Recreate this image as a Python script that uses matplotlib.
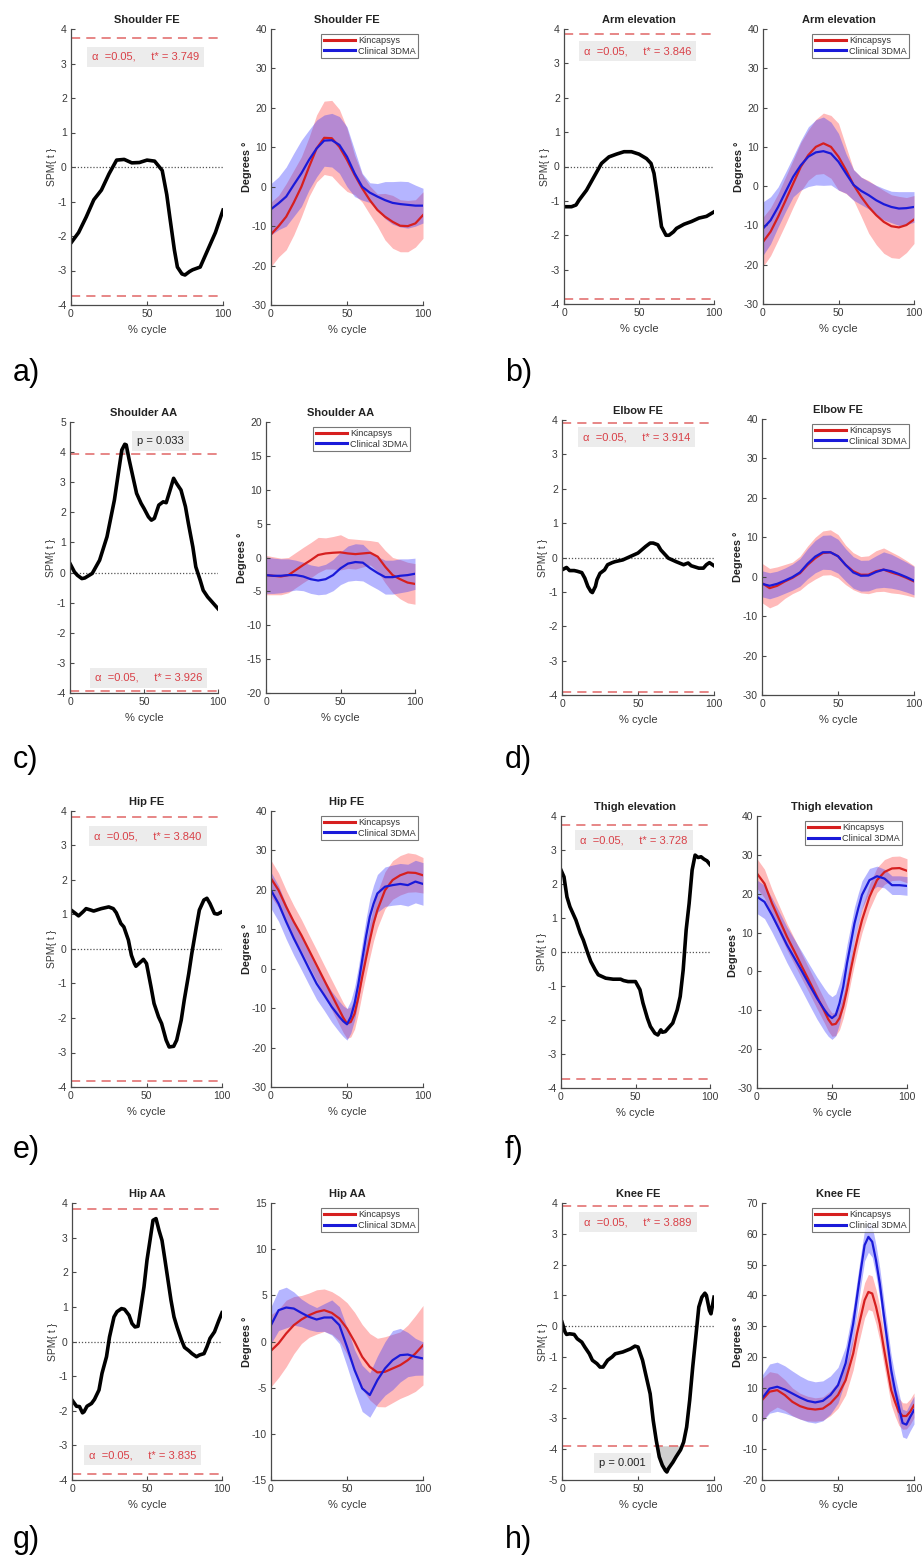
import numpy as np
import matplotlib
matplotlib.use("Agg")
import matplotlib.pyplot as plt

plt.rcParams['font.family'] = ['Liberation Sans', 'DejaVu Sans']
plt.rcParams['axes.unicode_minus'] = False

# ---------------- data ----------------
pct = [0, 5, 10, 15, 20, 25, 30, 35, 40, 45, 50, 55, 60, 65, 70, 75, 80, 85, 90, 95, 100]
pct_e = [0, 5, 10, 15, 20, 25, 30, 35, 40, 45, 47.5, 50, 52.5, 55, 57.5, 60, 62.5, 65, 67.5, 70, 75, 80, 85, 90, 95, 100]
pct_f = pct_e
pct_h = [0, 5, 10, 15, 20, 25, 30, 35, 40, 45, 50, 55, 60, 62.5, 65, 67.5, 70, 72.5, 75, 77.5, 80, 82.5, 85,
         87.5, 90, 92.5, 95, 97.5, 100]
xticks = [0, 50, 100]
series_names = ["Kincapsys", "Clinical 3DMA"]
letters = ["a)", "b)", "c)", "d)", "e)", "f)", "g)", "h)"]
titles = ["Shoulder FE", "Arm elevation", "Shoulder AA", "Elbow FE",
          "Hip FE", "Thigh elevation", "Hip AA", "Knee FE"]
tstar = [3.749, 3.846, 3.926, 3.914, 3.840, 3.728, 3.835, 3.889]
pvals = [None, None, "p = 0.033", None, None, None, None, "p = 0.001"]

# a) Shoulder FE
a_spm_x = [0, 5, 10, 15, 20, 25, 30, 35, 40, 45, 50, 55, 60, 63, 65, 68, 70, 73, 75, 78, 80, 85, 90, 95, 100]
a_spm = [-2.2, -1.9, -1.45, -0.95, -0.67, -0.2, 0.2, 0.22, 0.12, 0.13, 0.2, 0.17, -0.1, -0.8, -1.45, -2.4, -2.9,
         -3.1, -3.13, -3.03, -2.98, -2.9, -2.4, -1.9, -1.25]
a_kin = [-12.1, -10.0, -7.6, -4.0, 0.0, 5.0, 9.7, 12.4, 12.3, 10.1, 6.8, 3.0, -0.4, -3.4, -5.9, -7.6, -8.9, -9.9, -10.0, -9.3, -7.2]
a_kin_sd = [8.2, 7.8, 8.4, 8.2, 7.6, 7.5, 8.5, 9.3, 9.6, 9.5, 8.0, 5.0, 3.5, 3.6, 4.1, 5.9, 6.7, 6.6, 6.5, 6.0, 5.9]
a_cli = [-5.7, -4.2, -2.5, 0.5, 3.4, 6.8, 9.7, 11.7, 11.8, 10.6, 7.6, 3.4, 0.0, -1.5, -2.5, -3.4, -4.1, -4.4, -4.6, -4.8, -4.8]
a_cli_sd = [6.5, 6.7, 7.5, 8.0, 8.4, 7.6, 7.2, 6.5, 6.8, 7.2, 7.6, 5.9, 3.4, 2.5, 3.3, 4.7, 5.4, 5.8, 5.9, 5.2, 4.4]

# b) Arm elevation
b_spm_x = [0, 5, 8, 10, 15, 20, 25, 30, 35, 40, 45, 50, 55, 58, 60, 62, 65, 68, 70, 73, 75, 80, 85, 90, 95, 100]
b_spm = [-1.17, -1.17, -1.12, -0.98, -0.69, -0.3, 0.09, 0.28, 0.36, 0.43, 0.43, 0.36, 0.23, 0.09, -0.2, -0.79,
         -1.75, -2.0, -2.0, -1.9, -1.8, -1.68, -1.6, -1.5, -1.45, -1.32]
b_kin = [-14.2, -11.6, -7.8, -3.6, 0.7, 4.9, 7.9, 10.0, 10.9, 10.0, 7.5, 4.1, 0.3, -2.7, -5.3, -7.4, -9.1, -10.2, -10.5, -9.9, -8.5]
b_kin_sd = [6.3, 6.1, 5.9, 6.0, 6.0, 6.2, 6.4, 7.0, 7.7, 8.0, 8.5, 6.0, 3.9, 5.0, 6.7, 7.5, 8.0, 8.0, 7.9, 7.0, 6.1]
b_cli = [-10.8, -8.7, -5.3, -1.4, 2.4, 5.3, 7.5, 8.6, 8.9, 8.3, 6.2, 3.2, 0.3, -1.2, -2.3, -3.6, -4.6, -5.3, -5.7, -5.6, -5.3]
b_cli_sd = [6.8, 6.0, 5.1, 5.0, 5.1, 6.3, 7.6, 8.3, 8.7, 8.0, 7.2, 5.0, 3.9, 3.5, 3.5, 3.8, 4.0, 4.0, 4.3, 4.2, 3.9]

# c) Shoulder AA
c_spm_x = [0, 3, 5, 8, 10, 15, 20, 25, 30, 33, 35, 37, 38, 40, 43, 45, 48, 50, 53, 55, 57, 60, 63, 65, 68, 70, 72,
           75, 78, 80, 83, 85, 88, 90, 93, 95, 100]
c_spm = [0.3, 0.02, -0.09, -0.2, -0.18, -0.03, 0.41, 1.19, 2.41, 3.41, 4.07, 4.26, 4.24, 3.74, 3.07, 2.63, 2.3, 2.13,
         1.85, 1.74, 1.8, 2.24, 2.35, 2.32, 2.8, 3.13, 2.96, 2.74, 2.19, 1.63, 0.85, 0.19, -0.26, -0.59, -0.81, -0.92, -1.2]
c_kin = [-2.6, -2.7, -2.8, -2.6, -1.85, -1.1, -0.4, 0.37, 0.6, 0.7, 0.76, 0.6, 0.5, 0.6, 0.7, 0.12, -1.36, -2.6, -3.2, -3.7, -3.9]
c_kin_sd = [2.9, 2.8, 2.7, 2.6, 2.6, 2.6, 2.6, 2.6, 2.3, 2.4, 2.6, 2.2, 2.2, 2.0, 1.8, 2.2, 2.4, 2.6, 2.9, 3.0, 3.0]
c_cli = [-2.6, -2.7, -2.7, -2.6, -2.6, -2.8, -3.2, -3.4, -3.2, -2.6, -1.6, -0.9, -0.67, -0.76, -1.6, -2.3, -2.9, -2.9, -2.7, -2.6, -2.4]
c_cli_sd = [2.7, 2.6, 2.5, 2.4, 2.2, 2.1, 2.1, 2.1, 2.2, 2.3, 2.4, 2.6, 2.7, 2.7, 2.5, 2.4, 2.5, 2.5, 2.5, 2.4, 2.3]

# d) Elbow FE
d_spm_x = [0, 3, 5, 8, 10, 13, 15, 17, 19, 20, 22, 23, 25, 28, 30, 33, 35, 40, 45, 50, 55, 58, 60, 63, 65, 70, 75,
           80, 83, 85, 90, 93, 95, 97, 100]
d_spm = [-0.36, -0.29, -0.38, -0.38, -0.4, -0.44, -0.6, -0.84, -0.99, -1.02, -0.84, -0.65, -0.46, -0.36, -0.21,
         -0.15, -0.12, -0.07, 0.03, 0.13, 0.32, 0.42, 0.42, 0.37, 0.22, -0.02, -0.12, -0.21, -0.16, -0.24, -0.31,
         -0.31, -0.21, -0.15, -0.24]
d_kin = [-1.6, -2.9, -2.3, -1.2, -0.3, 0.9, 3.0, 4.7, 6.0, 6.2, 5.2, 3.0, 1.4, 0.5, 0.5, 1.4, 1.8, 1.1, 0.5, -0.3, -1.2]
d_kin_sd = [5.0, 5.0, 4.8, 4.3, 4.0, 4.3, 4.8, 5.3, 5.6, 5.7, 5.5, 5.0, 4.7, 4.6, 4.8, 5.2, 5.5, 5.2, 4.8, 4.4, 4.0]
d_cli = [-1.8, -2.3, -1.8, -1.0, -0.1, 1.1, 3.3, 5.1, 6.2, 6.2, 5.2, 3.0, 1.1, 0.25, 0.3, 1.2, 1.8, 1.4, 0.7, -0.1, -1.0]
d_cli_sd = [3.3, 3.3, 3.2, 3.2, 3.3, 3.5, 3.8, 4.1, 4.3, 4.4, 4.3, 4.1, 4.0, 3.9, 3.9, 4.1, 4.5, 4.3, 4.0, 3.8, 3.6]

# e) Hip FE
e_spm_x = [0, 3, 5, 8, 10, 13, 15, 20, 25, 28, 30, 33, 35, 38, 40, 42, 43, 45, 48, 50, 53, 55, 58, 60, 63, 65, 68,
           70, 73, 75, 78, 80, 83, 85, 88, 90, 92, 95, 97, 100]
e_spm = [1.13, 1.03, 0.96, 1.08, 1.17, 1.13, 1.1, 1.17, 1.22, 1.17, 1.05, 0.74, 0.64, 0.26, -0.18, -0.42, -0.5,
         -0.42, -0.3, -0.42, -1.1, -1.58, -1.97, -2.16, -2.64, -2.84, -2.82, -2.64, -2.06, -1.48, -0.71, -0.13, 0.64,
         1.13, 1.42, 1.47, 1.32, 1.03, 1.01, 1.08]
e_kin = [22.9, 19.9, 15.7, 11.9, 8.5, 4.7, 0.9, -2.9, -6.7, -10.5, -12.4, -13.9, -13.5, -11.4, -7.2, -2.1, 2.6, 7.2,
         11.5, 14.9, 19.9, 22.5, 23.7, 24.4, 24.3, 23.7]
e_kin_sd = [4.6, 4.4, 4.2, 4.1, 4.0, 3.9, 3.9, 3.8, 3.8, 3.8, 3.8, 3.8, 3.8, 3.9, 4.0, 4.1, 4.2, 4.3, 4.4, 4.5, 4.7,
            4.9, 5.0, 5.0, 4.8, 4.5]
e_cli = [19.9, 16.5, 11.9, 7.7, 3.9, 0.0, -3.8, -6.7, -9.7, -12.2, -13.3, -14.1, -12.2, -8.8, -3.8, 2.2, 8.1, 13.2,
         16.5, 19.1, 20.8, 21.2, 21.5, 21.2, 22.1, 21.5]
e_cli_sd = [4.6, 4.5, 4.4, 4.3, 4.2, 4.1, 4.0, 3.9, 3.9, 3.9, 3.9, 4.0, 4.1, 4.2, 4.3, 4.4, 4.5, 4.6, 4.7, 4.8, 5.0,
            5.1, 5.2, 5.3, 5.4, 5.4]

# f) Thigh elevation
f_spm_x = [0, 2, 4, 6, 10, 13, 15, 18, 20, 23, 25, 30, 35, 40, 42, 45, 50, 53, 55, 58, 60, 63, 65, 67, 68, 70, 73,
           75, 78, 80, 82, 84, 86, 88, 90, 92, 94, 96, 98, 100]
f_spm = [2.41, 2.21, 1.62, 1.33, 0.94, 0.55, 0.35, -0.04, -0.28, -0.53, -0.67, -0.77, -0.8, -0.8, -0.84, -0.87,
         -0.87, -1.11, -1.5, -1.95, -2.19, -2.39, -2.44, -2.29, -2.36, -2.34, -2.19, -2.09, -1.7, -1.31, -0.53, 0.65,
         1.43, 2.41, 2.85, 2.78, 2.8, 2.73, 2.68, 2.57]
f_kin = [25.2, 22.6, 17.5, 13.2, 8.9, 5.1, 1.2, -2.6, -6.5, -10.3, -12.3, -13.7, -13.5, -12.0, -9.0, -4.7, 0.4, 5.1,
         9.4, 13.2, 19.2, 23.5, 25.6, 26.5, 26.6, 25.9]
f_kin_sd = [3.8, 3.7, 3.6, 3.5, 3.4, 3.3, 3.2, 3.1, 3.1, 3.0, 3.0, 3.0, 3.0, 3.0, 3.0, 3.1, 3.1, 3.2, 3.2, 3.2, 3.2,
            3.2, 3.2, 3.1, 3.1, 3.1]
f_cli = [19.2, 17.9, 14.5, 10.7, 6.8, 3.4, 0.0, -3.5, -6.9, -9.9, -11.2, -12.0, -11.2, -8.2, -3.9, 2.1, 7.2, 12.4,
         16.2, 19.7, 23.5, 24.5, 23.9, 22.2, 22.2, 22.0]
f_cli_sd = [4.3, 4.3, 4.4, 4.5, 4.6, 4.8, 5.0, 5.2, 5.4, 5.5, 5.5, 5.5, 5.4, 5.2, 5.0, 4.8, 4.5, 4.2, 3.9, 3.6, 3.0,
            2.6, 2.4, 2.4, 2.4, 2.4]

# g) Hip AA
g_spm_x = [0, 3, 5, 7, 8, 10, 13, 15, 18, 20, 23, 25, 28, 30, 33, 35, 38, 40, 42, 44, 46, 48, 50, 52, 54, 56, 58,
           60, 62, 64, 66, 68, 70, 73, 75, 78, 80, 83, 85, 88, 90, 92, 95, 98, 100]
g_spm = [-1.69, -1.87, -1.88, -2.06, -2.03, -1.87, -1.79, -1.67, -1.4, -0.92, -0.44, 0.13, 0.71, 0.86, 0.95, 0.93,
         0.76, 0.52, 0.42, 0.44, 1.0, 1.58, 2.35, 2.92, 3.5, 3.55, 3.21, 2.92, 2.35, 1.77, 1.19, 0.71, 0.42, 0.04,
         -0.17, -0.27, -0.35, -0.44, -0.39, -0.35, -0.15, 0.09, 0.28, 0.62, 0.83]
g_kin = [-1.0, -0.2, 0.87, 1.77, 2.38, 2.85, 3.2, 3.39, 3.1, 2.49, 1.41, -0.04, -1.66, -2.74, -3.35, -3.28, -2.92, -2.56, -2.02, -1.3, -0.4]
g_kin_sd = [3.9, 3.7, 3.6, 3.1, 2.6, 2.4, 2.4, 2.3, 2.3, 2.4, 2.8, 3.2, 3.5, 3.6, 3.7, 3.8, 3.7, 3.6, 3.8, 4.1, 4.3]
g_cli = [1.77, 3.39, 3.68, 3.57, 3.1, 2.67, 2.38, 2.6, 2.6, 1.77, -0.58, -3.1, -5.08, -5.8, -4.18, -2.92, -2.02, -1.48, -1.41, -1.66, -1.84]
g_cli_sd = [2.0, 2.2, 2.2, 1.8, 1.5, 1.4, 1.3, 1.5, 1.9, 2.0, 2.1, 2.2, 2.5, 2.4, 2.6, 2.9, 3.2, 2.9, 2.4, 2.0, 1.8]

# h) Knee FE
h_spm_x = [0, 2, 3, 5, 8, 10, 13, 15, 18, 20, 23, 25, 27, 30, 33, 35, 40, 45, 48, 50, 53, 55, 58, 60, 62, 64, 66,
           68, 69, 70, 73, 75, 78, 80, 82, 84, 86, 88, 90, 92, 94, 95, 97, 98, 100]
h_spm = [0.13, -0.19, -0.27, -0.25, -0.27, -0.41, -0.52, -0.68, -0.9, -1.11, -1.22, -1.33, -1.33, -1.11, -1.0,
         -0.9, -0.84, -0.74, -0.65, -0.68, -1.11, -1.55, -2.2, -3.06, -3.71, -4.25, -4.52, -4.69, -4.74, -4.63,
         -4.42, -4.25, -4.02, -3.77, -3.28, -2.41, -1.33, -0.36, 0.62, 0.94, 1.07, 1.0, 0.51, 0.4, 0.94]
h_kin = [5.95, 8.7, 9.2, 7.6, 5.4, 4.0, 3.2, 2.9, 3.2, 4.9, 7.6, 12.4, 21.1, 27.6, 33.0, 38.4, 41.1, 40.6, 36.3,
         30.8, 23.3, 16.2, 9.2, 5.4, 2.2, 0.8, 0.8, 2.2, 4.3]
h_kin_sd = [7.0, 6.5, 5.5, 5.0, 4.5, 4.2, 4.0, 3.8, 3.8, 4.0, 4.3, 4.8, 5.3, 5.5, 5.6, 5.7, 5.7, 5.7, 5.6, 5.5, 5.3,
            5.0, 4.8, 4.6, 4.4, 4.3, 4.2, 4.1, 4.0]
h_cli = [6.5, 9.7, 10.3, 9.4, 8.1, 6.8, 5.7, 5.2, 5.7, 7.6, 10.8, 17.9, 30.8, 39.5, 48.2, 56.3, 59.0, 57.4, 51.4,
         43.8, 34.1, 24.9, 15.7, 9.2, 3.8, -1.5, -2.0, 0.5, 2.7]
h_cli_sd = [7.5, 8.0, 8.0, 7.7, 7.3, 7.0, 6.8, 6.7, 6.5, 6.2, 5.8, 5.4, 5.2, 5.2, 5.2, 5.1, 5.0, 5.0, 5.0, 5.0, 5.0,
            4.9, 4.8, 4.7, 4.6, 4.5, 4.5, 4.5, 4.5]

spm_ylims = [(-4, 4), (-4, 4), (-4, 5), (-4, 4), (-4, 4), (-4, 4), (-4, 4), (-5, 4)]
deg_ylims = [(-30, 40), (-30, 40), (-20, 20), (-30, 40), (-30, 40), (-30, 40), (-15, 15), (-20, 70)]
deg_steps = [10, 10, 5, 10, 10, 10, 5, 10]

# ---------------- layout (pixels) ----------------
W, H = 924, 1560
spm_box = [(71, 29, 223, 305), (564, 29, 714, 304), (70, 422, 218, 693), (562, 420, 714, 695),
           (71, 811, 222, 1087), (561, 816, 710, 1088), (72, 1203, 222, 1480), (562, 1203, 714, 1480)]
deg_box = [(271, 29, 423, 305), (763, 29, 914, 304), (266, 422, 415, 693), (762, 419, 914, 695),
           (271, 811, 423, 1087), (757, 816, 907, 1088), (271, 1203, 423, 1480), (762, 1203, 914, 1480)]
letter_xy = [(13, 373), (505, 373), (13, 760), (505, 760), (13, 1150), (505, 1150), (13, 1540), (505, 1540)]
alpha_pos = [(49, 3.2), (49, 3.36), (53, -3.5), (49, 3.5), (51, 3.27), (49, 3.29), (47, -3.28), (50, 3.38)]
p_pos = [None, None, (61, 4.37), None, None, None, None, (40, -4.45)]

RED = (0.84, 0.12, 0.12)
BLUE = (0.1, 0.1, 0.85)
AXC = '#4a4a4a'
TXT = '#3a3a3a'


def mkax(fig, box):
    l, t, r, b = box
    return fig.add_axes([l / W, 1 - b / H, (r - l) / W, (b - t) / H])


def style(ax):
    for s in ['top', 'right']:
        ax.spines[s].set_visible(False)
    for s in ['left', 'bottom']:
        ax.spines[s].set_color(AXC)
        ax.spines[s].set_linewidth(0.9)
    ax.tick_params(direction='in', length=3, width=0.8, colors=AXC, labelcolor=TXT,
                   labelsize=7.5, pad=3)
    ax.set_xlim(0, 100)
    ax.set_xticks(xticks)
    ax.set_xlabel('% cycle', fontsize=8, color=TXT, labelpad=4)


fig = plt.figure(figsize=(W / 100, H / 100), dpi=100)

spm_x_all = [a_spm_x, b_spm_x, c_spm_x, d_spm_x, e_spm_x, f_spm_x, g_spm_x, h_spm_x]
spm_all = [a_spm, b_spm, c_spm, d_spm, e_spm, f_spm, g_spm, h_spm]
deg_x_all = [pct, pct, pct, pct, pct_e, pct_f, pct, pct_h]
kin_all = [a_kin, b_kin, c_kin, d_kin, e_kin, f_kin, g_kin, h_kin]
kin_sd_all = [a_kin_sd, b_kin_sd, c_kin_sd, d_kin_sd, e_kin_sd, f_kin_sd, g_kin_sd, h_kin_sd]
cli_all = [a_cli, b_cli, c_cli, d_cli, e_cli, f_cli, g_cli, h_cli]
cli_sd_all = [a_cli_sd, b_cli_sd, c_cli_sd, d_cli_sd, e_cli_sd, f_cli_sd, g_cli_sd, h_cli_sd]

boxprops = dict(boxstyle='square,pad=0.45', facecolor='#ececec', edgecolor='none')

for i in range(8):
    # ---- SPM axis
    ax = mkax(fig, spm_box[i])
    style(ax)
    x = np.array(spm_x_all[i], dtype=float)
    y = np.array(spm_all[i], dtype=float)
    th = tstar[i]
    ax.set_ylim(*spm_ylims[i])
    ax.set_yticks(np.arange(spm_ylims[i][0], spm_ylims[i][1] + 1, 1))
    ax.axhline(0, color='#555555', lw=0.9, ls=(0, (1, 1.5)))
    ax.axhline(th, color=(0.88, 0.4, 0.4), lw=1.1, ls=(0, (6, 4)))
    ax.axhline(-th, color=(0.88, 0.4, 0.4), lw=1.1, ls=(0, (6, 4)))
    ax.fill_between(x, y, th, where=y > th, interpolate=True, color='#cfcfcf', lw=0)
    ax.fill_between(x, y, -th, where=y < -th, interpolate=True, color='#cfcfcf', lw=0)
    ax.plot(x, y, color='black', lw=2.6, solid_joinstyle='round')
    ax.set_ylabel('SPM{ t }', fontsize=7.5, color=TXT, labelpad=0)
    ax.set_title(titles[i], fontsize=8, fontweight='bold', color='#222222', pad=4)
    ax.text(alpha_pos[i][0], alpha_pos[i][1], '\u03b1  =0.05,     t* = %.3f' % th,
            ha='center', va='center', fontsize=8, color=(0.85, 0.25, 0.28), bbox=boxprops)
    if p_pos[i] is not None:
        ax.text(p_pos[i][0], p_pos[i][1], pvals[i], ha='center', va='center',
                fontsize=8, color='#222222', bbox=boxprops)

    # ---- Degrees axis
    ax2 = mkax(fig, deg_box[i])
    style(ax2)
    xp = np.array(deg_x_all[i], dtype=float)
    km = np.array(kin_all[i]); ks = np.array(kin_sd_all[i])
    cm = np.array(cli_all[i]); cs = np.array(cli_sd_all[i])
    ax2.fill_between(xp, km - ks, km + ks, color=(1.0, 0.25, 0.25), alpha=0.36, lw=0)
    ax2.fill_between(xp, cm - cs, cm + cs, color=(0.2, 0.2, 1.0), alpha=0.36, lw=0)
    ax2.plot(xp, km, color=RED, lw=1.6, label=series_names[0], solid_joinstyle='round')
    ax2.plot(xp, cm, color=BLUE, lw=1.6, label=series_names[1], solid_joinstyle='round')
    lo, hi = deg_ylims[i]
    ax2.set_ylim(lo, hi)
    ax2.set_yticks(np.arange(lo, hi + 1, deg_steps[i]))
    ax2.set_ylabel('Degrees \u00b0', fontsize=7.8, fontweight='bold', color='#222222', labelpad=0)
    ax2.set_title(titles[i], fontsize=8, fontweight='bold', color='#222222', pad=4)
    leg = ax2.legend(loc='upper right', fontsize=6.6, handlelength=3.4, handletextpad=0.3,
                     borderpad=0.3, labelspacing=0.15, frameon=True, fancybox=False,
                     borderaxespad=0.5)
    leg.get_frame().set_edgecolor('#555555')
    leg.get_frame().set_linewidth(0.8)
    for t in leg.get_texts():
        t.set_color('#333333')
    for ln in leg.get_lines():
        ln.set_linewidth(2.2)

    # ---- panel letter
    lx, ly = letter_xy[i]
    fig.text(lx / W, 1 - ly / H, letters[i], fontsize=22, ha='left', va='center', color='black')

fig.savefig('out.png', dpi=100)
